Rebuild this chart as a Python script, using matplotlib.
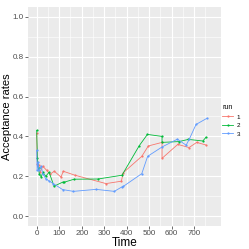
import matplotlib
matplotlib.use("Agg")
import matplotlib.pyplot as plt
from matplotlib.lines import Line2D

plt.rcParams['font.family'] = ['Liberation Sans', 'DejaVu Sans']

t1 = [0, 3, 8, 15, 27, 44, 59, 78, 108, 118, 170, 308, 376, 385, 467, 496, 557, 557, 627, 677, 711, 752]
v1 = [0.415, 0.26, 0.255, 0.22, 0.25, 0.23, 0.21, 0.225, 0.196, 0.225, 0.205, 0.163, 0.175, 0.218, 0.30, 0.352, 0.37, 0.29, 0.36, 0.344, 0.37, 0.357]

t2 = [0, 3, 8, 12, 20, 27, 40, 55, 77, 115, 122, 166, 272, 379, 456, 492, 557, 557, 632, 674, 738, 752]
v2 = [0.43, 0.29, 0.24, 0.21, 0.196, 0.22, 0.20, 0.22, 0.15, 0.17, 0.17, 0.185, 0.186, 0.205, 0.354, 0.41, 0.40, 0.37, 0.374, 0.385, 0.377, 0.395]

t3 = [0, 2, 6, 10, 20, 27, 40, 55, 74, 115, 163, 264, 345, 378, 385, 467, 493, 557, 625, 664, 678, 708, 755]
v3 = [0.33, 0.23, 0.27, 0.23, 0.25, 0.213, 0.188, 0.176, 0.163, 0.133, 0.124, 0.134, 0.124, 0.146, 0.149, 0.213, 0.30, 0.347, 0.386, 0.356, 0.386, 0.46, 0.49]

runs = ["1", "2", "3"]
colors = ["#F8766D", "#00BA38", "#619CFF"]

fig = plt.figure(figsize=(2.49, 2.49), dpi=100)
W, H = 249, 249
ax = fig.add_axes([28 / W, (H - 226) / H, (221 - 28) / W, (226 - 7) / H])
ax.set_facecolor("#EBEBEB")
for s in ax.spines.values():
    s.set_visible(False)

for t, v, c in zip([t1, t2, t3], [v1, v2, v3], colors):
    ax.plot(t, v, color=c, lw=0.6, marker="o", ms=1.6, mew=0)

ax.set_xlim(-38.7, 819)
ax.set_ylim(-0.05, 1.05)
ax.set_xticks([0, 100, 200, 300, 400, 500, 600, 700])
ax.set_yticks([0.0, 0.2, 0.4, 0.6, 0.8, 1.0])
ax.set_yticklabels(["0.0", "0.2", "0.4", "0.6", "0.8", "1.0"])
ax.set_xticks([50, 150, 250, 350, 450, 550, 650, 750], minor=True)
ax.set_yticks([0.1, 0.3, 0.5, 0.7, 0.9], minor=True)
ax.grid(which="major", color="white", lw=0.8)
ax.grid(which="minor", color="white", lw=0.4)
ax.set_axisbelow(True)
ax.tick_params(which="major", length=2, width=0.5, color="#333333", labelsize=5.8, labelcolor="#4D4D4D", pad=1.2)
ax.tick_params(which="minor", length=0)
ax.set_xlabel("Time", fontsize=8.5, labelpad=0)
ax.set_ylabel("Acceptance rates", fontsize=8, va="center")
ax.yaxis.set_label_coords((7.3 - 28) / 193, 0.5)

handles = [Line2D([0], [0], color=c, lw=0.6, marker="o", ms=1.6, mew=0) for c in colors]
leg = fig.legend(handles, runs, title="run", loc="upper left", bbox_to_anchor=(219 / W, 1 - 101 / H),
                 frameon=False, fontsize=4.5, title_fontsize=5, handlelength=1.8,
                 handletextpad=0.5, labelspacing=0.5, borderpad=0)
leg._legend_box.align = "left"
fig.savefig("out.png", dpi=100)
